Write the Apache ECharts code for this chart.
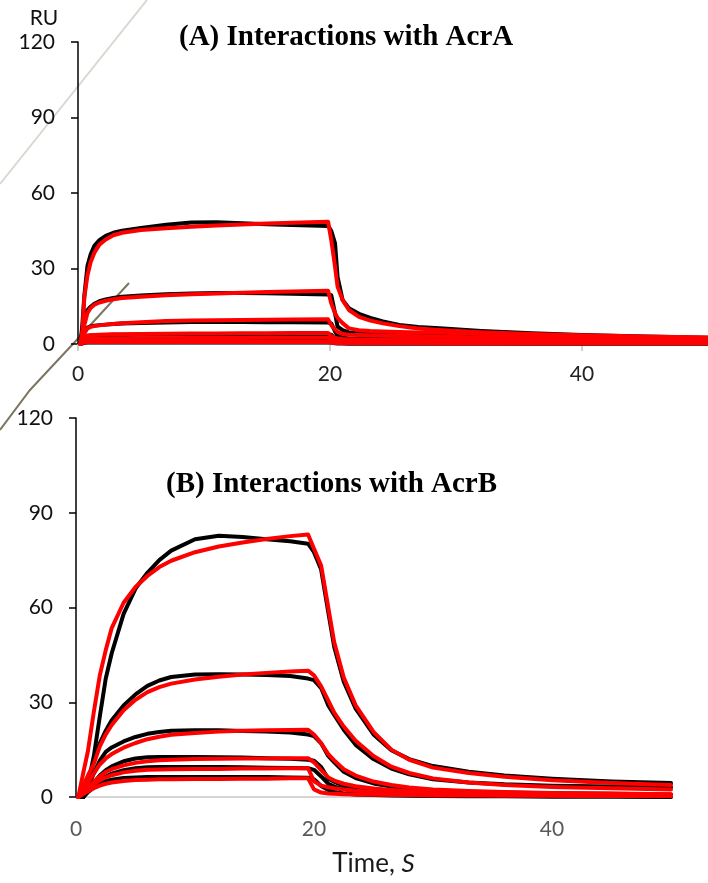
<!DOCTYPE html>
<html><head><meta charset="utf-8">
<script src="https://cdn.jsdelivr.net/npm/echarts@6/dist/echarts.min.js"></script>
<style>html,body{margin:0;padding:0;background:#fff}#c{width:708px;height:883px}</style>
</head><body><div id="c"></div>
<script>
// ---------- Panel A: Interactions with AcrA ----------
const timeA = [0.2,0.35,0.5,0.75,1,1.3,1.7,2.2,2.8,3.5,5,7,9,11,13,15,17,19.85,20.1,20.4,20.6,21,21.5,22.3,23.2,24.2,25.5,27,29,32,36,40,45,50];
const expA1 = [0,8,19,31,35.5,39,41.3,43,44.2,45,46.1,47.4,48.3,48.4,48,47.6,47.3,46.9,45,40,26.7,17.5,14.2,12,10.4,9,7.6,6.8,6.2,5.2,4.3,3.6,3,2.5];
const fitA1 = [0,5,18.5,27.2,32.5,36.3,39.5,41.5,43.2,44.2,45.3,46,46.6,47.1,47.5,47.9,48.2,48.6,41.3,30.7,22.8,17.5,13.5,10.8,9.3,8.2,7.1,6.2,5.5,4.7,4,3.5,3,2.6];
const expA2 = [0,6,11,13.5,14.8,16,17,17.7,18.3,18.8,19.3,19.8,20.1,20.3,20.3,20.2,20,19.7,19.4,12.2,6.9,5.5,4.6,4.2,4,3.9,3.7,3.5,3.3,3,2.6,2.2,1.9,1.6];
const fitA2 = [0,4.3,7.5,12.3,14.3,15.6,16.5,17.2,17.8,18.3,18.8,19.4,19.8,20.1,20.4,20.7,20.9,21.2,16.2,12.2,10.4,8.3,6.2,5.5,5.2,5,4.8,4.6,4.5,4,3.4,2.9,2.4,2];
const expA3 = [0,3,5.2,6.5,7,7.3,7.5,7.7,7.9,8.1,8.3,8.5,8.7,8.7,8.7,8.6,8.6,8.5,8.2,5,3.2,2.5,2.2,2,2,1.9,1.9,1.8,1.7,1.6,1.4,1.2,1.1,0.9];
const fitA3 = [0,2.5,4.2,6.2,6.8,7.1,7.4,7.7,7.9,8.2,8.6,9.1,9.3,9.4,9.5,9.6,9.7,9.8,7.5,5.8,4.8,4,3.7,3.6,3.5,3.4,3.3,3.1,2.9,2.6,2.2,1.9,1.6,1.3];
const expA4 = [0,1.8,2.8,3.3,3.4,3.5,3.6,3.6,3.7,3.7,3.8,3.8,3.9,3.9,3.9,3.8,3.8,3.8,3.7,2,1.4,1.1,1,0.9,0.9,0.9,0.8,0.8,0.8,0.7,0.7,0.6,0.6,0.5];
const fitA4 = [0,1.5,2.5,3.3,3.5,3.6,3.7,3.8,3.9,3.9,4,4.1,4.2,4.2,4.3,4.3,4.4,4.4,3.2,2.5,2.2,2,1.9,1.8,1.8,1.7,1.7,1.6,1.5,1.4,1.2,1.1,1,0.9];
const expA5 = [0,1,1.6,1.9,2,2,2.1,2.1,2.1,2.1,2.1,2.1,2.1,2.1,2.1,2.1,2.1,2.1,2,1.1,0.8,0.6,0.5,0.5,0.5,0.5,0.4,0.4,0.4,0.4,0.3,0.3,0.3,0.3];
const fitA5 = [0,0.9,1.5,1.9,2,2.1,2.1,2.2,2.2,2.2,2.3,2.3,2.4,2.4,2.4,2.5,2.5,2.5,1.8,1.4,1.2,1.1,1,1,1,0.9,0.9,0.9,0.8,0.8,0.7,0.6,0.6,0.5];
const expA6 = [0,0.3,0.5,0.6,0.6,0.6,0.6,0.6,0.6,0.6,0.6,0.6,0.6,0.6,0.6,0.6,0.6,0.6,0.6,0.3,0.2,0.2,0.1,0.1,0.1,0.1,0.1,0.1,0.1,0.1,0.1,0.1,0.1,0.1];
const fitA6 = [0,0.4,0.6,0.7,0.8,0.8,0.8,0.8,0.8,0.8,0.8,0.8,0.8,0.8,0.8,0.8,0.8,0.8,0.6,0.4,0.4,0.3,0.3,0.3,0.3,0.3,0.3,0.3,0.2,0.2,0.2,0.2,0.2,0.2];

// ---------- Panel B: Interactions with AcrB ----------
const timeB = [0.2,0.6,1,1.5,2,2.5,3,4,5,6,7,8,10,12,14,16,18,19.5,20,20.6,21.2,21.7,22.5,23.5,25,26.5,28,30,33,36,40,45,50];
const expB1 = [0,0,4,13,25.5,37.5,45.5,58,66,71,75,78,81.6,82.7,82.3,81.6,81,80.2,77.5,72,58.5,47.5,36.5,28,19.8,14.8,12,9.8,8,6.8,5.8,4.9,4.4];
const fitB1 = [0,7.5,14.5,27,38.5,46.5,53.5,61.5,66.5,70,72.8,74.8,77.5,79.3,80.6,81.7,82.6,83.1,78.6,73.3,60,49,37.8,29,20.6,15,11.8,9.3,7.6,6.4,5.3,4.4,3.8];
const expB2 = [0,0,4,11.5,17,21,24.3,29,32.5,35.2,36.9,38,38.8,38.9,38.8,38.6,38.3,37.5,37,34.5,29,26,21.3,16.5,12,9,7.2,5.6,4.6,4,3.6,3.3,3.1];
const fitB2 = [0,3.5,6.8,10.5,16,19.8,22.8,27.5,30.8,33.2,34.8,35.9,37.2,38.1,38.8,39.3,39.7,40,38.5,35,30.5,26.7,22.3,17.8,13,9.6,7.6,5.9,4.6,3.8,3.2,2.8,2.4];
const expB3 = [0,0,3,7.5,11.5,14.3,15.7,17.6,19,20,20.6,21,21.1,21.1,20.9,20.7,20.4,19.8,19.3,17,13,11,8,6,4.3,3.3,2.7,2.1,1.7,1.4,1.2,1,0.8];
const fitB3 = [0,2,4.5,7.5,10.3,12.2,13.6,15.6,17.1,18.3,19.1,19.7,20.3,20.7,21,21.1,21.2,21.3,19.8,17,13.6,11.6,8.8,6.8,4.9,3.8,3,2.4,1.9,1.6,1.3,1.1,0.9];
const expB4 = [0,0,2,4.5,6.8,8.5,9.7,11.3,12.2,12.6,12.7,12.7,12.7,12.6,12.5,12.3,12.1,11.8,11.5,9.5,5.8,4.8,3.6,2.8,2.1,1.7,1.4,1.1,0.9,0.7,0.6,0.5,0.4];
const fitB4 = [0,1.5,3,4.8,6.5,7.9,8.8,10,10.8,11.3,11.6,11.8,12,12.1,12.2,12.2,12.3,12.3,11,8.5,6.2,5.2,4.2,3.4,2.7,2.2,1.8,1.4,1.1,0.9,0.7,0.6,0.5];
const expB5 = [0,0,1.8,3.6,5.2,6.5,7.4,8.5,9.1,9.4,9.5,9.5,9.5,9.5,9.4,9.3,9.2,9.1,8.6,6.5,4.2,3.3,2.5,1.9,1.4,1.1,0.9,0.7,0.5,0.4,0.3,0.3,0.2];
const fitB5 = [0,1.3,2.6,4,5.3,6.2,6.9,7.8,8.3,8.6,8.7,8.8,8.9,8.9,9,9,9.1,9.1,5,3.6,3.1,2.8,2.4,2,1.6,1.3,1.1,0.9,0.7,0.6,0.5,0.4,0.3];
const expB6 = [0,0,1.5,3,4.2,5,5.5,6,6.2,6.3,6.3,6.3,6.3,6.3,6.3,6.3,6.2,6.1,5.6,3.5,2.2,1.6,1.1,0.8,0.6,0.5,0.4,0.3,0.2,0.2,0.1,0.1,0];
const fitB6 = [0,0.9,1.8,2.8,3.6,4.2,4.6,5.1,5.4,5.5,5.6,5.6,5.7,5.7,5.8,5.8,5.9,5.9,2.4,1.4,1.1,1,0.9,0.8,0.7,0.6,0.6,0.5,0.5,0.4,0.4,0.3,0.3];

// ---------- Axis ticks / labels ----------
const yTicks = [0, 30, 60, 90, 120];
const xTicks = [0, 20, 40];
const titleA = '(A) Interactions with AcrA';
const titleB = '(B) Interactions with AcrB';
const yUnit = 'RU';

const FONT = 'Lato, "DejaVu Sans", sans-serif';
const SERIF = 'bold 29px "Liberation Serif", "Times New Roman", serif';

function pairs(t, v) { return t.map((x, i) => [x, v[i]]); }
function mkSeries(t, v, color, idx) {
  return {
    type: 'line', xAxisIndex: idx, yAxisIndex: idx, data: pairs(t, v),
    showSymbol: false, symbol: 'none', smooth: false, animation: false,
    lineStyle: { color: color, width: 4, cap: 'round', join: 'round' },
    itemStyle: { color: color }, silent: true
  };
}
const expA = [expA1, expA2, expA3, expA4, expA5, expA6];
const fitA = [fitA1, fitA2, fitA3, fitA4, fitA5, fitA6];
const expB = [expB1, expB2, expB3, expB4, expB5, expB6];
const fitB = [fitB1, fitB2, fitB3, fitB4, fitB5, fitB6];

const series = [];
expA.forEach(v => series.push(mkSeries(timeA, v, '#000000', 0)));
fitA.forEach(v => series.push(mkSeries(timeA, v, '#ff0000', 0)));
expB.forEach(v => series.push(mkSeries(timeB, v, '#000000', 1)));
fitB.forEach(v => series.push(mkSeries(timeB, v, '#ff0000', 1)));

function yAxisCfg(idx) {
  return {
    type: 'value', gridIndex: idx, min: yTicks[0], max: yTicks[yTicks.length - 1], interval: 30,
    splitLine: { show: false },
    axisLine: { show: true, lineStyle: { color: '#000', width: 1.5 } },
    axisTick: { show: true, inside: false, length: 7, lineStyle: { color: '#000', width: 1.5 } },
    axisLabel: { fontFamily: FONT, fontSize: 21, color: '#111', margin: 23 }
  };
}

const option = {
  animation: false,
  backgroundColor: '#fff',
  grid: [
    { left: 78, top: 42, width: 636.5, height: 302 },
    { left: 76, top: 418, width: 595, height: 379 }
  ],
  xAxis: [
    {
      type: 'value', gridIndex: 0, min: xTicks[0], max: 50, interval: 20,
      splitLine: { show: false },
      axisLine: { show: true, lineStyle: { color: '#d9d9d9', width: 1 } },
      axisTick: { show: true, length: 7, lineStyle: { color: '#bfbfbf', width: 1.5 } },
      axisLabel: { fontFamily: FONT, fontSize: 21, color: '#222', margin: 20, showMaxLabel: false }
    },
    {
      type: 'value', gridIndex: 1, min: xTicks[0], max: 50, interval: 20,
      splitLine: { show: false },
      axisLine: { show: true, lineStyle: { color: '#c8c8c8', width: 1.5 } },
      axisTick: { show: false },
      axisLabel: { fontFamily: FONT, fontSize: 21, color: '#595959', margin: 22, showMaxLabel: false },
      name: '{a|Time, }{b|S}', nameLocation: 'middle', nameGap: 54,
      nameTextStyle: { rich: {
        a: { fontFamily: FONT, fontSize: 26, color: '#1a1a1a' },
        b: { fontFamily: FONT, fontSize: 26, color: '#1a1a1a', fontStyle: 'italic' }
      } }
    }
  ],
  yAxis: [yAxisCfg(0), yAxisCfg(1)],
  graphic: [
    { type: 'polyline', z: -1, silent: true,
      shape: { points: [[147, 0], [0, 184]] },
      style: { stroke: '#d9d8d0', lineWidth: 2, fill: null } },
    { type: 'polyline', z: -1, silent: true,
      shape: { points: [[129, 283], [75, 341.7], [30, 390], [0, 430]] },
      style: { stroke: '#7d7562', lineWidth: 2, fill: null } },
    { type: 'text', silent: true, style: { x: 44, y: 18, text: yUnit, fill: '#111',
      font: '21px ' + FONT, textAlign: 'center', textVerticalAlign: 'middle' } },
    { type: 'text', silent: true, style: { x: 179, y: 38, text: titleA, fill: '#000',
      font: SERIF, textAlign: 'left', textVerticalAlign: 'middle' } },
    { type: 'text', silent: true, style: { x: 166, y: 485, text: titleB, fill: '#000',
      font: SERIF, textAlign: 'left', textVerticalAlign: 'middle' } }
  ],
  series: series
};

const chart = echarts.init(document.getElementById('c'), null, { renderer: 'canvas' });
chart.setOption(option);
</script>
</body></html>
